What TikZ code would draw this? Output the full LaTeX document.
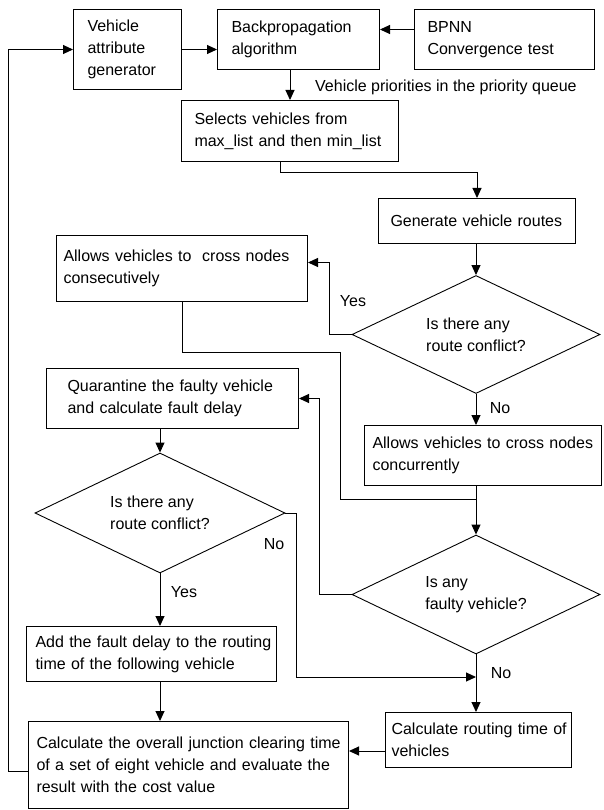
\documentclass[tikz,border=0pt]{standalone}
\usepackage{fontspec}
\setmainfont{Liberation Sans}
\usetikzlibrary{arrows.meta,shapes.geometric}
\begin{document}
\begin{tikzpicture}[x=1pt,y=-1pt,
  every node/.style={font=\fontsize{16}{22}\selectfont},
  box/.style={draw, line width=1pt, align=left, anchor=north west, inner ysep=0pt},
  dec/.style={draw, diamond, aspect=2.1, line width=0.9pt, inner sep=0pt, minimum width=248pt, minimum height=118pt, align=left},
  line/.style={line width=1pt},
  arr/.style={line width=1pt, -{Triangle[length=10pt,width=9pt]}},
  lab/.style={inner sep=0pt}]
\useasboundingbox (0,0) rectangle (604,810);

% boxes
\node[box, text width=80pt, inner xsep=14pt, minimum height=80pt] (A) at (73,9) {Vehicle\\attribute\\generator};
\node[box, text width=134pt, inner xsep=14pt, minimum height=60pt] (B) at (217,9) {Backpropagation\\algorithm};
\node[box, text width=154pt, inner xsep=13pt, minimum height=60pt] (C) at (414,9) {BPNN\\Convergence test};
\node[box, text width=191pt, inner xsep=13pt, minimum height=61pt] (S) at (181,100) {Selects vehicles from\\\mbox{max\_list and then min\_list}};
\node[box, text width=173pt, inner xsep=12pt, minimum height=45pt] (G) at (378,198) {\mbox{Generate vehicle routes}};
\node[box, text width=237pt, inner xsep=7pt, minimum height=66pt] (Cons) at (56,235) {\mbox{Allows vehicles to\ \ cross nodes}\\consecutively};
\node[box, text width=210pt, inner xsep=21pt, minimum height=60pt] (Q) at (46,368) {\mbox{Quarantine the faulty vehicle}\\and calculate fault delay};
\node[box, text width=221pt, inner xsep=8pt, minimum height=60pt] (Conc) at (364,425) {\mbox{Allows vehicles to cross nodes}\\concurrently};
\node[box, text width=232pt, inner xsep=9pt, minimum height=55pt] (AddF) at (26,626) {\mbox{Add the fault delay to the routing}\\time of the following vehicle};
\node[box, text width=174pt, inner xsep=6pt, minimum height=55pt] (R) at (385,712) {\mbox{Calculate routing time of}\\vehicles};
\node[box, text width=304pt, inner xsep=8pt, minimum height=87pt] (F) at (28,721) {\mbox{Calculate the overall junction clearing time}\\\mbox{of a set of eight vehicle and evaluate the}\\result with the cost value};

% decisions
\node[dec] (D1) at (476,334.5) {Is there any\\route conflict?};
\node[dec, minimum height=119pt] (D2) at (476,594.5) {Is any\\faulty vehicle?};
\node[dec, minimum width=250pt, minimum height=120pt] (D3) at (160,513) {Is there any\\route conflict?};

% helper coordinates
\coordinate (fbl) at (8,771);
\coordinate (c1) at (340,352);
\coordinate (j1) at (476,499);
\coordinate (j2) at (476,677);

% connectors
\draw[arr] (F.west |- fbl) -- (fbl) |- (A.west);
\draw[arr] (A.east) -- (A.east -| B.west);
\draw[arr] ([yshift=10pt]C.west) -- ([yshift=10pt]C.west -| B.east);
\draw[arr] (S.north |- B.south) -- (S.north);
\draw[arr] ([xshift=-10pt]S.south) -- ++(0,11) -| (G.north);
\draw[arr] (D1.north |- G.south) -- (D1.north);
\draw[arr] (D1.west) -- ++(-22,0) |- ([yshift=6pt]Cons.east);
\draw[line] (Cons.south) |- (c1) |- (j1);
\draw[arr] (D1.south) -- (D1.south |- Conc.north);
\draw[arr] (D2.north |- Conc.south) -- (D2.north);
\draw[arr] (D2.west) -- ++(-32,0) |- (Q.east);
\draw[arr] (D3.north |- Q.south) -- (D3.north);
\draw[arr] (D3.south) -- (D3.south |- AddF.north);
\draw[arr] (D3.east) -- ++(11,0) |- (j2);
\draw[arr] (D2.south) -- (D2.south |- R.north);
\draw[arr] (D3.south |- AddF.south) -- (D3.south |- F.north);
\draw[arr] ([yshift=-11pt]R.west) -- ([yshift=-11pt]R.west -| F.east);

% labels
\node[lab, anchor=west] (VP) at (315,87) {Vehicle priorities in the priority queue};
\node[lab] (Y1) at (353,301) {Yes};
\node[lab] (N1) at (500,408) {No};
\node[lab] (N3) at (274,544) {No};
\node[lab] (Y3) at (184,592) {Yes};
\node[lab] (N2) at (501,673) {No};
\end{tikzpicture}
\end{document}
